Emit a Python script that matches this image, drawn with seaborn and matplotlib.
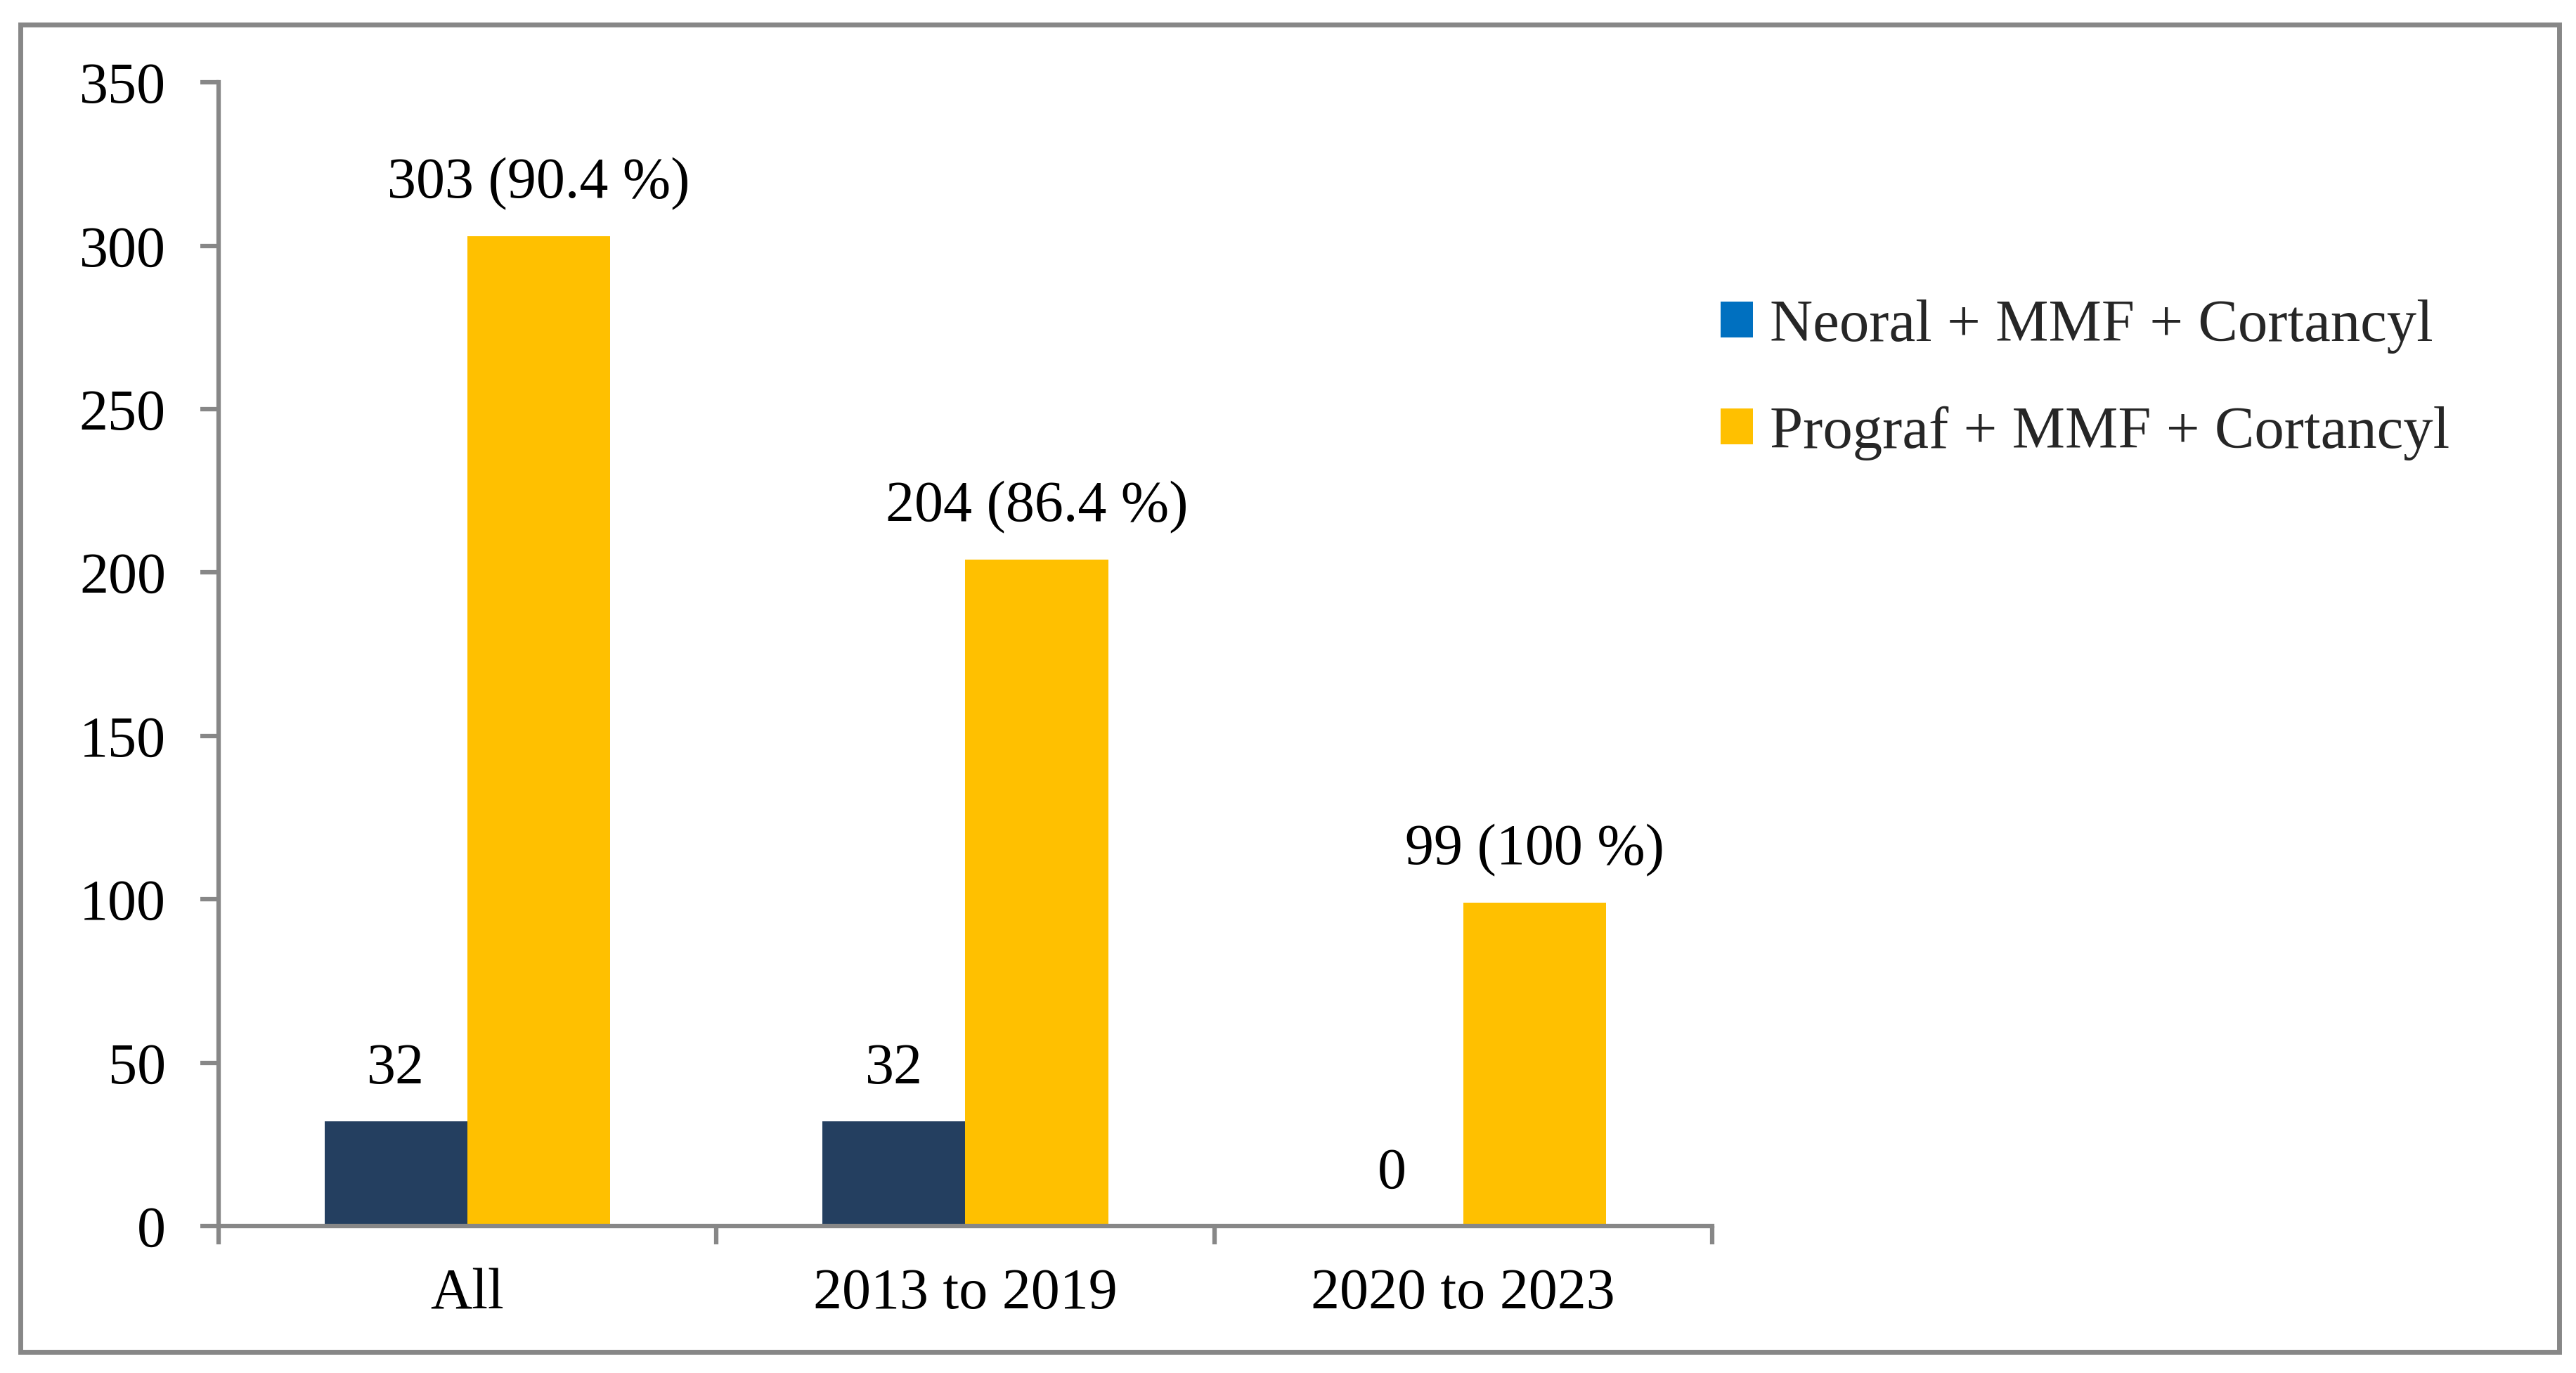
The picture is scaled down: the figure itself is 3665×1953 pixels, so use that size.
import matplotlib
matplotlib.use("Agg")
import matplotlib.pyplot as plt
from matplotlib.patches import Patch, Rectangle
import seaborn as sns
import pandas as pd

categories = ["All", "2013 to 2019", "2020 to 2023"]
series_names = ["Neoral + MMF + Cortancyl", "Prograf + MMF + Cortancyl"]
neoral_values = [32, 32, 0]
prograf_values = [303, 204, 99]
neoral_labels = ["32", "32", "0"]
prograf_labels = ["303 (90.4 %)", "204 (86.4 %)", "99 (100 %)"]
y_ticks = [0, 50, 100, 150, 200, 250, 300, 350]

bar_colors = ["#243F60", "#FFC000"]
legend_colors = ["#0070C0", "#FFC000"]
gray = "#878787"

df = pd.DataFrame({
    "category": categories * 2,
    "series": [series_names[0]] * 3 + [series_names[1]] * 3,
    "value": neoral_values + prograf_values,
})

sns.set_theme(style="white")
plt.rcParams["font.family"] = ["Liberation Serif", "DejaVu Serif"]
FS = 59
LFS = 61

fig = plt.figure(figsize=(36.66, 19.53), dpi=100)
ax = fig.add_axes([0.0848, 0.107, 0.5797, 0.833])

sns.barplot(data=df, x="category", y="value", hue="series", order=categories,
            hue_order=series_names, palette=bar_colors, width=0.574,
            saturation=1, ax=ax, legend=False, linewidth=0)

for cont, labs in zip(ax.containers, [neoral_labels, prograf_labels]):
    ax.bar_label(cont, labels=labs, padding=26, fontsize=FS, color="black")

ax.set_xlim(-0.5, 2.5)
ax.set_ylim(0, 350)
ax.set_yticks(y_ticks)
ax.set_yticklabels([str(v) for v in y_ticks], fontsize=FS)
ax.set_xticks([-0.5, 0.5, 1.5, 2.5])
ax.set_xticklabels(["", "", "", ""])
ax.set_xticks([0, 1, 2], minor=True)
ax.set_xticklabels(categories, minor=True, fontsize=FS)
ax.set_xlabel("")
ax.set_ylabel("")

for s in ["top", "right"]:
    ax.spines[s].set_visible(False)
for s in ["left", "bottom"]:
    ax.spines[s].set_color(gray)
    ax.spines[s].set_linewidth(4.5)
ax.tick_params(axis="y", which="major", direction="out", length=19, width=4.5,
               color=gray, pad=35, left=True, labelcolor="black")
ax.tick_params(axis="x", which="major", direction="out", length=19, width=4.5,
               color=gray, bottom=True)
ax.tick_params(axis="x", which="minor", length=0, pad=43, labelcolor="black")
ax.grid(False)

handles = [Patch(facecolor=c, edgecolor="none") for c in legend_colors]
fig.legend(handles, series_names, loc="upper left",
           bbox_to_anchor=(0.6677, 0.782), frameon=False, fontsize=LFS,
           handlelength=0.55, handleheight=0.55, handletextpad=0.28,
           labelspacing=0.88, borderpad=0, borderaxespad=0)

fig.patches.append(Rectangle((0.0078, 0.0155), 0.9855, 0.9665,
                             transform=fig.transFigure, fill=False,
                             edgecolor=gray, linewidth=5))

fig.savefig("out.png", dpi=100)
